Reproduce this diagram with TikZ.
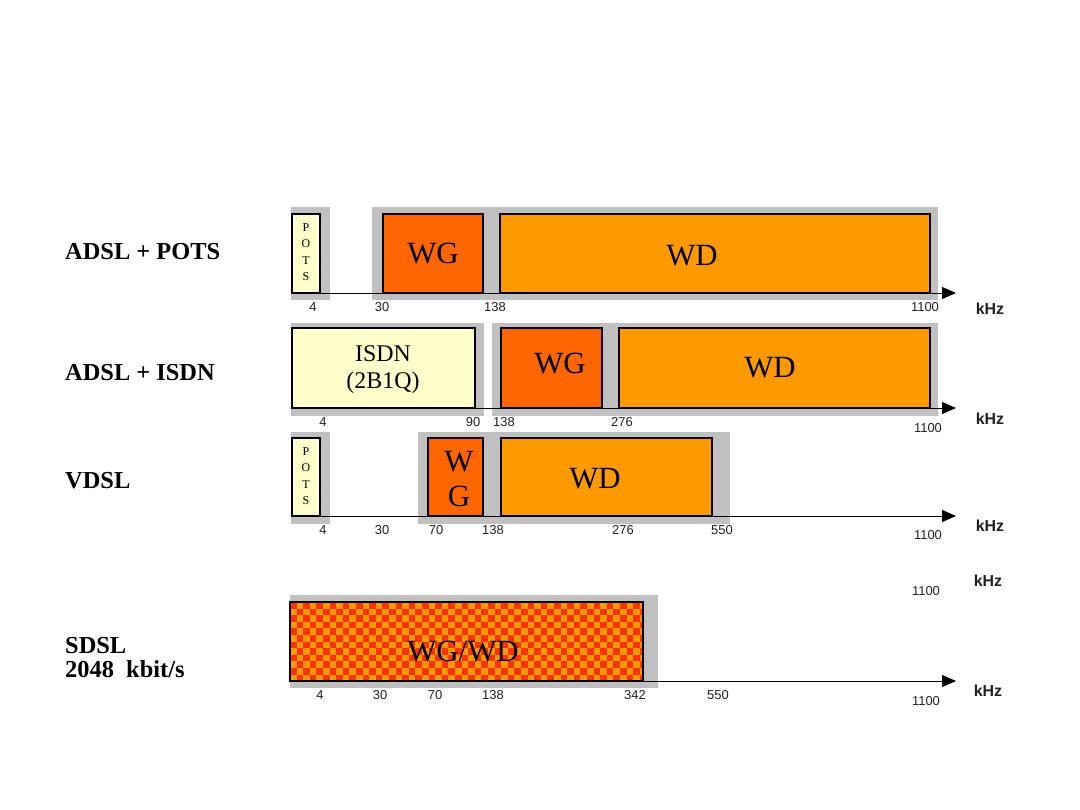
\documentclass[tikz,border=0pt]{standalone}
\usepackage{fontspec}
\setmainfont{Liberation Serif}
\setsansfont{Liberation Sans}
\usetikzlibrary{arrows.meta}
\definecolor{potsc}{HTML}{FFFFCC}
\definecolor{wgc}{HTML}{FF6600}
\definecolor{wdc}{HTML}{FF9900}
\definecolor{shadec}{HTML}{C0C0C0}
\definecolor{chkred}{HTML}{FF3300}
\definecolor{numc}{HTML}{222222}
\tikzset{
  band/.style={draw=black, line width=1.4bp, inner sep=0pt, outer sep=0pt, anchor=south west},
  shadowbox/.style={fill=shadec},
  axisline/.style={line width=1bp, -{Triangle[length=14bp,width=12bp]}},
  num/.style={font=\fontsize{13}{13}\sffamily, text=numc, inner sep=0pt},
  unit/.style={font=\fontsize{16}{16}\sffamily\bfseries, text=numc, inner sep=0pt},
  rowlab/.style={font=\fontsize{24.5}{23.5}\selectfont\bfseries, anchor=west, align=left, inner sep=0pt},
  big/.style={font=\fontsize{31}{31}\selectfont, inner sep=0pt},
  mid/.style={font=\fontsize{24}{27}\selectfont, align=center, inner sep=0pt},
  potsl/.style={font=\fontsize{12}{16.5}\selectfont, align=center, inner sep=0pt}
}
\begin{document}
\begin{tikzpicture}[x=1bp,y=-1bp]
\useasboundingbox[fill=white] (0,0) rectangle (1080,810);

% ---------- row labels
\node[rowlab] (l1) at (65,252) {ADSL + POTS};
\node[rowlab] (l2) at (65,373) {ADSL + ISDN};
\node[rowlab] (l3) at (65,481) {VDSL};
\node[rowlab] (l4) at (65,657.5) {SDSL\\2048~~kbit/s};

% ---------- shadows
\fill[shadowbox] (291,207) rectangle (330,300);
\fill[shadowbox] (372,207) rectangle (938,300);
\fill[shadowbox] (291,323) rectangle (484,416);
\fill[shadowbox] (492,323) rectangle (938,416);
\fill[shadowbox] (291,432) rectangle (330,524);
\fill[shadowbox] (418,432) rectangle (730,524);
\fill[shadowbox] (290,595) rectangle (658,688);

% ---------- axes
\coordinate (a1s) at (291,293); \coordinate (a1e) at (956,293);
\coordinate (a2s) at (291,408); \coordinate (a2e) at (956,408);
\coordinate (a3s) at (291,516); \coordinate (a3e) at (956,516);
\coordinate (a4s) at (290,681); \coordinate (a4e) at (956,681);
\draw[axisline] (a1s) -- (a1e);
\draw[axisline] (a2s) -- (a2e);
\draw[axisline] (a3s) -- (a3e);
\draw[axisline] (a4s) -- (a4e);

% ---------- row 1: ADSL + POTS
\node[band, fill=potsc, minimum width=28bp, minimum height=79bp] (pots1) at (292,293) {};
\node[band, fill=wgc, minimum width=100bp, minimum height=79bp] (wg1) at (383,293) {};
\node[band, fill=wdc, minimum width=430bp, minimum height=79bp] (wd1) at (500,293) {};
\node[potsl] (pots1t) at (306,252) {P\\O\\T\\S};
\node[big] (wg1t) at (433,254) {WG};
\node[big] (wd1t) at (692,256) {WD};

% ---------- row 2: ADSL + ISDN
\node[band, fill=potsc, minimum width=183bp, minimum height=80bp] (isdn2) at (292,408) {};
\node[band, fill=wgc, minimum width=101bp, minimum height=80bp] (wg2) at (501,408) {};
\node[band, fill=wdc, minimum width=311bp, minimum height=80bp] (wd2) at (619,408) {};
\node[mid] (isdn2t) at (383,370) {ISDN\\(2B1Q)};
\node[big] (wg2t) at (560,364) {WG};
\node[big] (wd2t) at (770,368) {WD};

% ---------- row 3: VDSL
\node[band, fill=potsc, minimum width=28bp, minimum height=78bp] (pots3) at (292,516) {};
\node[band, fill=wgc, minimum width=55bp, minimum height=78bp] (wg3) at (428,516) {};
\node[band, fill=wdc, minimum width=211bp, minimum height=78bp] (wd3) at (501,516) {};
\node[potsl] (pots3t) at (306,476) {P\\O\\T\\S};
\node[big] (wg3w) at (459,462) {W};
\node[big] (wg3g) at (459,496) {G};
\node[big] (wd3t) at (595,479) {WD};

% ---------- row 4: SDSL (checkered)
\begin{scope}
  \clip (290,602) rectangle (643,681);
  \fill[wdc] (290,602) rectangle (643,681);
  \foreach \i in {0,...,53} {
    \foreach \j in {0,...,11} {
      \pgfmathtruncatemacro\chkpar{mod(\i+\j,2)}
      \ifnum\chkpar=0
        \fill[chkred] (290+\i*6.6,602+\j*6.6) rectangle ++(6.6,6.6);
      \fi
    }
  }
\end{scope}
\node[band, minimum width=353bp, minimum height=79bp] (sdsl4) at (290,681) {};
\node[big] (sdsl4t) at (463,652) {WG/WD};

% ---------- tick numbers
\node[num] (n1a) at (313,307) {4};
\node[num] (n1b) at (382,307) {30};
\node[num] (n1c) at (495,307) {138};
\node[num] (n1d) at (925,307) {1100};
\node[unit] (k1) at (990,309) {kHz};

\node[num] (n2a) at (323,422) {4};
\node[num] (n2b) at (473,422) {90};
\node[num] (n2c) at (504,422) {138};
\node[num] (n2d) at (622,422) {276};
\node[num] (n2e) at (928,428) {1100};
\node[unit] (k2) at (990,419) {kHz};

\node[num] (n3a) at (323,530) {4};
\node[num] (n3b) at (382,530) {30};
\node[num] (n3c) at (436,530) {70};
\node[num] (n3d) at (493,530) {138};
\node[num] (n3e) at (623,530) {276};
\node[num] (n3f) at (722,530) {550};
\node[num] (n3g) at (928,535) {1100};
\node[unit] (k3) at (990,526) {kHz};

\node[num] (n5a) at (926,591) {1100};
\node[unit] (k5) at (988,581) {kHz};

\node[num] (n4a) at (320,695) {4};
\node[num] (n4b) at (380,695) {30};
\node[num] (n4c) at (435,695) {70};
\node[num] (n4d) at (493,695) {138};
\node[num] (n4e) at (635,695) {342};
\node[num] (n4f) at (718,695) {550};
\node[num] (n4g) at (926,701) {1100};
\node[unit] (k4) at (988,691) {kHz};
\end{tikzpicture}
\end{document}
